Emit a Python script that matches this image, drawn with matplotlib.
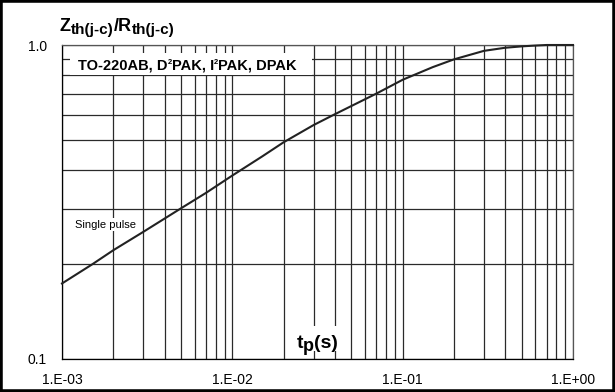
import matplotlib.pyplot as plt
from matplotlib.patches import Rectangle

plt.rcParams["font.family"] = ["Liberation Sans", "DejaVu Sans"]

# Single pulse thermal impedance, normalised to Rth(j-c)
tp = [1e-3, 1.5e-3, 2e-3, 3e-3, 4e-3, 5e-3, 7e-3, 1e-2, 1.5e-2, 2e-2, 3e-2,
      4e-2, 7e-2, 1e-1, 1.5e-1, 2e-1, 3e-1, 4e-1, 5e-1, 6e-1, 7e-1, 1.0]
zth_ratio = [0.174, 0.200, 0.222, 0.254, 0.280, 0.302, 0.338, 0.384, 0.442,
             0.490, 0.556, 0.602, 0.700, 0.775, 0.850, 0.900, 0.958, 0.980,
             0.990, 0.996, 1.0, 1.0]

x_ticks = [1e-3, 1e-2, 1e-1, 1e0]
x_labels = ["1.E-03", "1.E-02", "1.E-01", "1.E+00"]
y_ticks = [0.1, 1.0]
y_labels = ["0.1", "1.0"]

fig = plt.figure(figsize=(6.15, 3.92), dpi=100)
ax = fig.add_axes([62 / 615, 33 / 392, 511 / 615, 314 / 392])

ax.plot(tp, zth_ratio, color="#222222", lw=1.5, clip_on=False, zorder=4)

ax.set_xscale("log")
ax.set_yscale("log")
ax.set_xlim(1e-3, 1e0)
ax.set_ylim(0.1, 1.0)

ax.set_xticks(x_ticks)
ax.set_xticklabels(x_labels)
ax.set_yticks(y_ticks)
ax.set_yticklabels(y_labels)
ax.set_xticks([m * d for d in (1e-3, 1e-2, 1e-1) for m in range(2, 10)], minor=True)
ax.set_yticks([m * 0.1 for m in range(2, 10)], minor=True)
ax.xaxis.set_minor_formatter(plt.NullFormatter())
ax.yaxis.set_minor_formatter(plt.NullFormatter())
ax.tick_params(which="both", length=0, labelsize=10)
ax.tick_params(axis="x", pad=10)
ax.tick_params(axis="y", pad=11)

ax.grid(True, which="both", color="#2a2a2a", lw=0.9)
for side in ["left", "bottom"]:
    ax.spines[side].set_color("black")
    ax.spines[side].set_linewidth(0.9)
for side in ["top", "right"]:
    ax.spines[side].set_color("#555555")
    ax.spines[side].set_linewidth(0.9)


def chain(pieces, start, coords="data", **common):
    """Write text pieces one after another; each piece is (text, size, rise)."""
    first = prev = None
    for text, size, rise in pieces:
        if first is None:
            prev = first = ax.annotate(text, xy=start, xycoords=coords,
                                       va="baseline", fontsize=size, **common)
            base = size
            continue
        # rise is measured from the first piece's baseline
        drop = 0.212 * (base - size)
        prev = ax.annotate(text, xy=(1, 0), xycoords=(prev, first),
                           xytext=(0, rise + drop), textcoords="offset points",
                           va="bottom", fontsize=size, **common)
    return first


bold = dict(fontweight="bold", annotation_clip=False, zorder=5)

# y-axis title with subscripts
chain([("Z", 13, 0), ("th(j-c)", 11, -1.6), ("/R", 13, 0), ("th(j-c)", 11, -1.6)],
      (60, 392 - 31), coords="figure pixels", **bold)

# package label on a white patch
ax.add_patch(Rectangle((1.115e-3, 0.802), 2.95e-2 - 1.115e-3, 0.943 - 0.802,
                       facecolor="white", edgecolor="none", zorder=3))
chain([("TO-220AB, D", 10.5, 0), ("2", 5.5, 3.6), ("PAK, I", 10.5, 0),
       ("2", 5.5, 3.6), ("PAK, DPAK", 10.5, 0)], (1.24e-3, 0.838), **bold)

ax.text(1.19e-3, 0.268, "Single pulse", fontsize=8, va="center", ha="left",
        bbox=dict(facecolor="white", edgecolor="none", pad=1), zorder=3)

# x-axis title t_p(s) on a white patch that hides the grid
ax.add_patch(Rectangle((2.25e-2, 0.1061), 4.44e-2 - 2.25e-2, 0.1274 - 0.1061,
                       facecolor="white", edgecolor="none", zorder=3))
chain([("t", 14, 0), ("p", 13, -2.6), ("(s)", 14, 0)], (2.38e-2, 0.1084), **bold)

fig.patches.append(Rectangle((0, 0), 1, 1, transform=fig.transFigure, fill=False,
                             edgecolor="black", lw=4, zorder=10))

fig.savefig("out.png", dpi=100)
